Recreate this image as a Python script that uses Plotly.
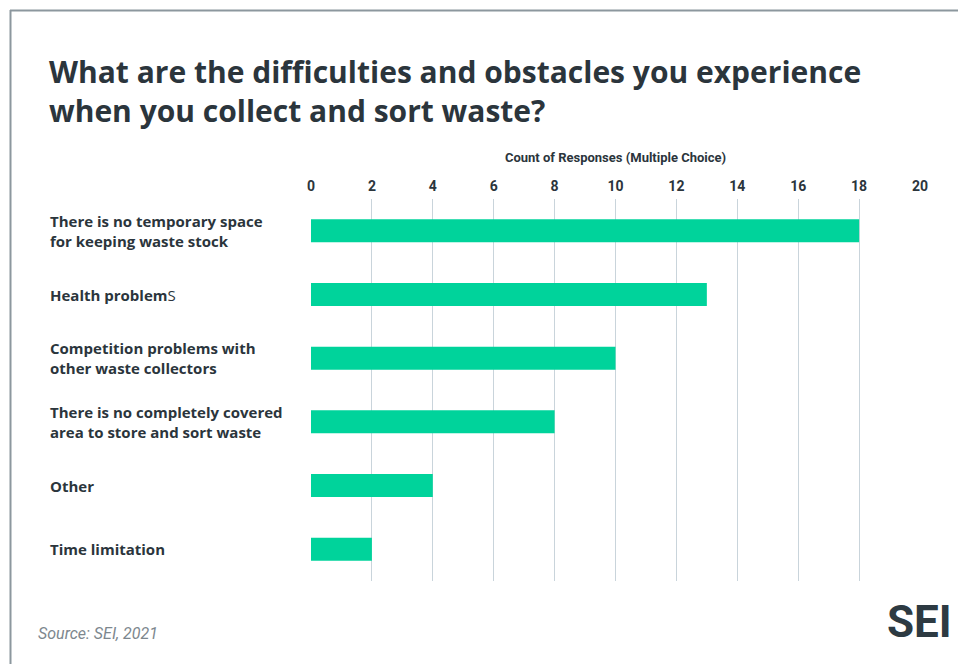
import plotly.graph_objects as go

categories = [
    "There is no temporary space<br>for keeping waste stock",
    "Health problem<span style='font-weight:400'>S</span>",
    "Competition problems with<br>other waste collectors",
    "There is no completely covered<br>area to store and sort waste",
    "Other",
    "Time limitation",
]
values = [18, 13, 10, 8, 4, 2]
tick_vals = [0, 2, 4, 6, 8, 10, 12, 14, 16, 18, 20]
title_text = ("What are the difficulties and obstacles you experience<br>"
              "when you collect and sort waste?")

DARK = "#2b353c"
W, H = 958, 664
L, R, T, B = 311, 38, 199, 83

fig = go.Figure(go.Bar(
    x=values, y=list(range(len(categories))), orientation="h",
    marker=dict(color="#00d39b", line=dict(width=0)),
    hoverinfo="x",
))

fig.update_layout(
    width=W, height=H,
    margin=dict(l=L, r=R, t=T, b=B),
    paper_bgcolor="white", plot_bgcolor="white",
    bargap=0.64,
    showlegend=False,
    font=dict(family="Roboto", color=DARK),
    xaxis=dict(
        side="top", range=[0, 20], tickvals=tick_vals,
        showgrid=True, gridcolor="#c9d4db", gridwidth=1,
        zeroline=False, showline=False,
        ticks="outside", ticklen=1, tickcolor="rgba(0,0,0,0)",
        tickfont=dict(size=14, weight="bold", color=DARK, family="Roboto"),
        title=dict(text="Count of Responses (Multiple Choice)",
                   font=dict(size=13, weight="bold", color=DARK, family="Roboto"),
                   standoff=12),
        fixedrange=True,
    ),
    yaxis=dict(
        range=[len(categories) - 0.5, -0.5], showticklabels=False,
        showgrid=False, zeroline=False, fixedrange=True,
    ),
)

px_w = W - L - R
def px_x(x):
    return (x - L) / px_w
def px_y(y):
    return 1 - (y - T) / (H - T - B)

for i, c in enumerate(categories):
    fig.add_annotation(
        x=px_x(48), xref="paper", y=i, yref="y",
        text=c, showarrow=False, xanchor="left", yanchor="middle", align="left",
        font=dict(size=15, weight="bold", color=DARK, family="Open Sans"),
    )

# Title
fig.add_annotation(
    x=px_x(47), xref="paper", y=px_y(91), yref="paper",
    text=title_text, showarrow=False, xanchor="left", yanchor="middle", align="left",
    font=dict(size=30, weight="bold", color=DARK, family="Open Sans"),
)

# Source
fig.add_annotation(
    x=px_x(36), xref="paper", y=px_y(633), yref="paper",
    text="<i>Source: SEI, 2021</i>", showarrow=False, xanchor="left", yanchor="middle",
    font=dict(size=16, color="#7d878e", family="Roboto"),
)

# Logo
fig.add_annotation(
    x=px_x(954), xref="paper", y=px_y(622), yref="paper",
    text="<b>SEI</b>", showarrow=False, xanchor="right", yanchor="middle",
    font=dict(size=44, color="#2d3a42", family="Roboto"),
)

# Frame lines
fig.add_shape(type="line", xref="paper", yref="paper",
              x0=px_x(10), x1=px_x(958), y0=px_y(10.5), y1=px_y(10.5),
              line=dict(color="#8c979e", width=2))
fig.add_shape(type="line", xref="paper", yref="paper",
              x0=px_x(10.5), x1=px_x(10.5), y0=px_y(10), y1=px_y(664),
              line=dict(color="#8c979e", width=2))

fig.write_html("out.html", config={"displayModeBar": False})
